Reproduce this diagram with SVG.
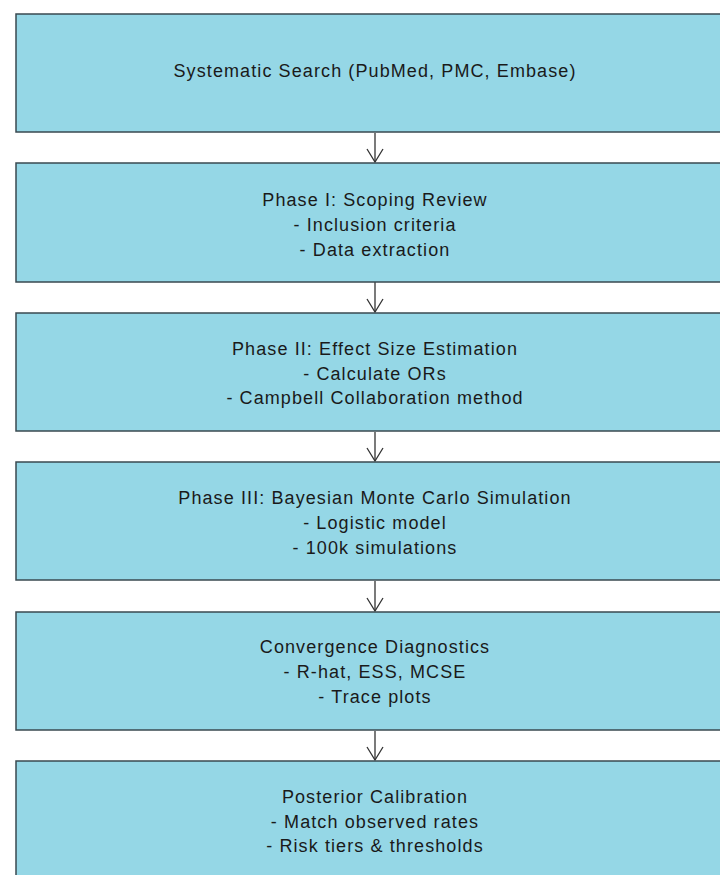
<svg xmlns="http://www.w3.org/2000/svg" width="720" height="875" viewBox="0 0 720 875">
<defs>
<style>
.box{fill:#95d7e6;stroke:#3a4a50;stroke-width:1.5}
.t{font-family:"Liberation Sans",Arial,sans-serif;font-size:18px;letter-spacing:1.1px;fill:#1a1a1a;text-anchor:middle}
.c{stroke:#333;stroke-width:1.3;fill:none}
</style>
<marker id="ah" markerWidth="16" markerHeight="20" refX="14" refY="9" orient="auto" markerUnits="userSpaceOnUse" viewBox="0 0 16 20">
<path d="M1,1 L14,9 L1,17" fill="none" stroke="#333" stroke-width="1.3"/>
</marker>
</defs>
<rect width="720" height="875" fill="#ffffff"/>
<g id="connectors">
<line class="c" x1="375" y1="133" x2="375" y2="162" marker-end="url(#ah)"/>
<line class="c" x1="375" y1="282" x2="375" y2="312" marker-end="url(#ah)"/>
<line class="c" x1="375" y1="432" x2="375" y2="461" marker-end="url(#ah)"/>
<line class="c" x1="375" y1="581" x2="375" y2="611" marker-end="url(#ah)"/>
<line class="c" x1="375" y1="731" x2="375" y2="760" marker-end="url(#ah)"/>
</g>
<g id="n1"><rect class="box" x="16" y="14" width="718" height="118"/>
<text class="t" x="375" y="77">Systematic Search (PubMed, PMC, Embase)</text></g>
<g id="n2"><rect class="box" x="16" y="163" width="718" height="119"/>
<text class="t" x="375" y="206">Phase I: Scoping Review</text>
<text class="t" x="375" y="231">- Inclusion criteria</text>
<text class="t" x="375" y="256">- Data extraction</text></g>
<g id="n3"><rect class="box" x="16" y="313" width="718" height="118"/>
<text class="t" x="375" y="355">Phase II: Effect Size Estimation</text>
<text class="t" x="375" y="380">- Calculate ORs</text>
<text class="t" x="375" y="404">- Campbell Collaboration method</text></g>
<g id="n4"><rect class="box" x="16" y="462" width="718" height="118"/>
<text class="t" x="375" y="504">Phase III: Bayesian Monte Carlo Simulation</text>
<text class="t" x="375" y="529">- Logistic model</text>
<text class="t" x="375" y="554">- 100k simulations</text></g>
<g id="n5"><rect class="box" x="16" y="612" width="718" height="118"/>
<text class="t" x="375" y="653">Convergence Diagnostics</text>
<text class="t" x="375" y="678">- R-hat, ESS, MCSE</text>
<text class="t" x="375" y="703">- Trace plots</text></g>
<g id="n6"><rect class="box" x="16" y="761" width="718" height="130"/>
<text class="t" x="375" y="803">Posterior Calibration</text>
<text class="t" x="375" y="828">- Match observed rates</text>
<text class="t" x="375" y="852">- Risk tiers &amp; thresholds</text></g>
</svg>
